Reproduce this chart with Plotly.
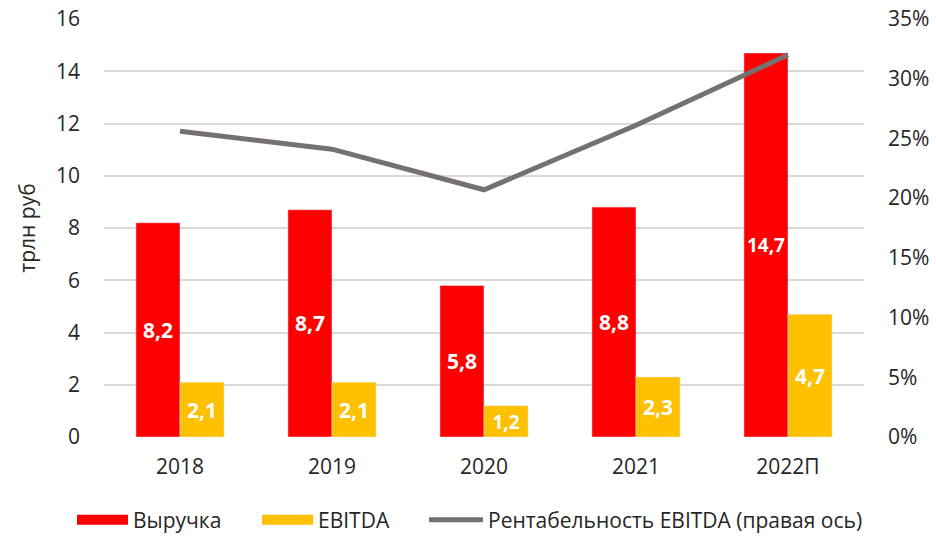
import plotly.graph_objects as go

years = ["2018", "2019", "2020", "2021", "2022П"]
revenue = [8.2, 8.7, 5.8, 8.8, 14.7]
ebitda = [2.1, 2.1, 1.2, 2.3, 4.7]
margin = [25.6, 24.1, 20.7, 26.1, 32.0]

def fmt(v):
    return f"{v:.1f}".replace(".", ",")

FONT = "Open Sans"
RED = "#FF0000"
YEL = "#FFC000"
GRAY = "#767171"

fig = go.Figure()
fig.add_trace(go.Bar(
    x=years, y=revenue, name="Выручка", marker_color=RED, showlegend=False,
    text=[fmt(v) for v in revenue], textposition="inside",
    insidetextanchor="middle", textangle=0,
    textfont=dict(color="white", size=21, family=FONT, weight="bold"),
))
fig.add_trace(go.Bar(
    x=years, y=ebitda, name="EBITDA", marker_color=YEL, showlegend=False,
    text=[fmt(v) for v in ebitda], textposition="inside",
    insidetextanchor="middle", textangle=0,
    textfont=dict(color="white", size=21, family=FONT, weight="bold"),
))
fig.add_trace(go.Scatter(
    x=years, y=margin, name="Рентабельность EBITDA (правая ось)",
    mode="lines", line=dict(color=GRAY, width=5), yaxis="y2", showlegend=False,
))
# legend entries (wide swatches like the original), one legend box each
fig.add_trace(go.Scatter(x=[None], y=[None], mode="lines", name="Выручка",
                         line=dict(color=RED, width=13), legend="legend"))
fig.add_trace(go.Scatter(x=[None], y=[None], mode="lines", name="EBITDA",
                         line=dict(color=YEL, width=13), legend="legend2"))
fig.add_trace(go.Scatter(x=[None], y=[None], mode="lines", yaxis="y2",
                         name="Рентабельность EBITDA (правая ось)",
                         line=dict(color=GRAY, width=5), legend="legend3"))

def leg(px, iw):
    return dict(orientation="h", x=px / 936, xanchor="left", xref="container",
                y=(542 - 520) / 542, yref="container", yanchor="middle",
                font=dict(size=21), itemwidth=iw, bgcolor="rgba(0,0,0,0)")

fig.update_layout(
    width=936, height=542,
    margin=dict(l=104, r=72, t=19, b=105, autoexpand=False),
    paper_bgcolor="white", plot_bgcolor="white",
    font=dict(family=FONT, size=21, color="#262626"),
    barmode="group", bargap=0.42, bargroupgap=0,
    xaxis=dict(showgrid=False, ticks="", ticklabelstandoff=15,
               tickfont=dict(size=21), automargin=False),
    yaxis=dict(range=[0, 16], dtick=2, showgrid=True, gridcolor="#D9D9D9",
               gridwidth=2, zeroline=False, ticks="", ticklabelstandoff=23,
               automargin=False,
               title=dict(text="трлн руб", font=dict(size=21), standoff=14)),
    yaxis2=dict(range=[0, 35], dtick=5, overlaying="y", side="right",
                showgrid=False, zeroline=False, ticksuffix="%", ticks="",
                ticklabelstandoff=23, automargin=False),
    legend=leg(72, 51),
    legend2=leg(257, 51),
    legend3=leg(424, 54),
    showlegend=True,
)

fig.write_html("out.html")
